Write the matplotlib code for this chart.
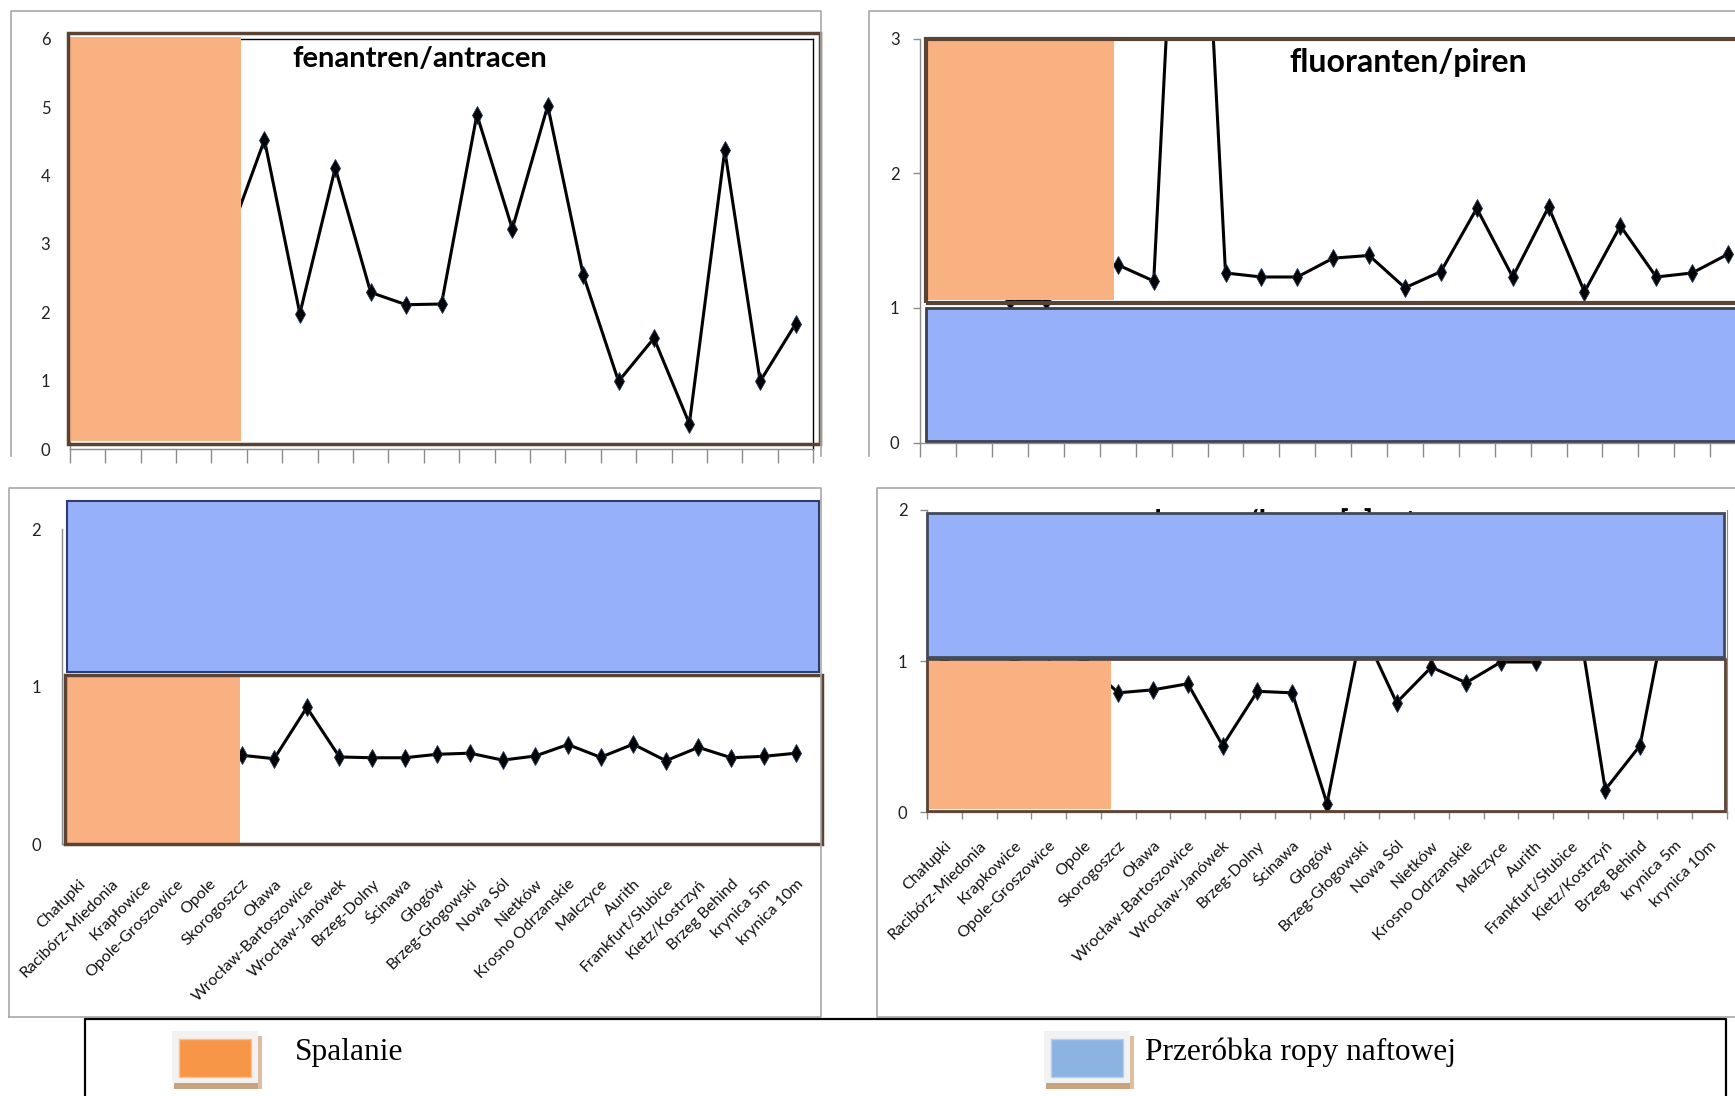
import numpy as np
import matplotlib
matplotlib.use("Agg")
import matplotlib.pyplot as plt
from matplotlib.patches import Rectangle
from matplotlib.lines import Line2D

plt.rcParams['font.family'] = ['Lato', 'DejaVu Sans']

# ---------------------------------------------------------------- data
stations_left = ["Chałupki", "Racibórz-Miedonia", "Krapłowice", "Opole-Groszowice",
                 "Opole", "Skorogoszcz", "Oława", "Wrocław-Bartoszowice",
                 "Wrocław-Janówek", "Brzeg-Dolny", "Ścinawa", "Głogów",
                 "Brzeg-Głogowski", "Nowa Sól", "Nietków", "Krosno Odrzanskie",
                 "Malczyce", "Aurith", "Frankfurt/Słubice", "Kietz/Kostrzyń",
                 "Brzeg Behind", "krynica 5m", "krynica 10m"]
stations_right = ["Chałupki", "Racibórz-Miedonia", "Krapkowice", "Opole-Groszowice",
                  "Opole", "Skorogoszcz", "Oława", "Wrocław-Bartoszowice",
                  "Wrocław-Janówek", "Brzeg-Dolny", "Ścinawa", "Głogów",
                  "Brzeg-Głogowski", "Nowa Sól", "Nietków", "Krosno Odrzanskie",
                  "Malczyce", "Aurith", "Frankfurt/Słubice", "Kietz/Kostrzyń",
                  "Brzeg Behind", "krynica 5m", "krynica 10m"]

# fenantren/antracen (21 sampling points)
phe_ant = [3.3, 2.8, 3.9, 2.6, 3.1, 4.52, 1.98, 4.11, 2.29, 2.11, 2.12,
           4.89, 3.22, 5.02, 2.55, 0.99, 1.62, 0.37, 4.37, 0.99, 1.83]
# fluoranten/piren
flu_pyr = [1.30, 1.20, 1.05, 1.05, 1.35, 1.32, 1.20, 6.40, 1.26, 1.23, 1.23,
           1.37, 1.39, 1.15, 1.27, 1.74, 1.23, 1.75, 1.12, 1.61, 1.23, 1.26, 1.40]
# lower-left ratio
ratio_ll = [0.55, 0.56, 0.54, 0.57, 0.56, 0.565, 0.543, 0.868, 0.554, 0.549,
            0.549, 0.571, 0.578, 0.534, 0.560, 0.633, 0.552, 0.635, 0.530,
            0.615, 0.549, 0.558, 0.578]
# chryzen/benzo[a]antracen
chr_baa = [1.0, 0.92, 1.0, 0.96, 1.0, 0.79, 0.81, 0.85, 0.44, 0.80, 0.79,
           0.057, 1.22, 0.725, 0.96, 0.857, 0.994, 0.994, 1.6, 0.149, 0.441,
           1.63, 1.4]

legend_labels = ["Spalanie", "Przeróbka ropy naftowej"]

# ---------------------------------------------------------------- styling
W, H, DPI = 1735, 1096, 100
ORANGE = '#f9b182'
BLUE = '#97b0fa'
BROWN = '#5b4334'
AXIS = '#8c8c8c'
FRAME = '#a8a8a8'

fig = plt.figure(figsize=(W / DPI, H / DPI), dpi=DPI)
fig.patch.set_facecolor('white')


def px_axes(x0, x1, y0, y1):
    return fig.add_axes([x0 / W, 1 - y1 / H, (x1 - x0) / W, (y1 - y0) / H])


def fline(xs, ys, color=FRAME, lw=1.2):
    fig.add_artist(Line2D([x / W for x in xs], [1 - y / H for y in ys],
                          transform=fig.transFigure, color=color, lw=lw))


def frect(x0, x1, y0, y1, **kw):
    fig.add_artist(Rectangle((x0 / W, 1 - y1 / H), (x1 - x0) / W, (y1 - y0) / H,
                             transform=fig.transFigure, **kw))


def base_axes(ax, n, ymax, ytick_len, xtick_len, ypad, names=None, xpad=0):
    ax.set_xlim(-0.5, n - 0.5)
    ax.set_ylim(0, ymax)
    ax.set_facecolor('none')
    for s in ('top', 'right'):
        ax.spines[s].set_visible(False)
    for s in ('left', 'bottom'):
        ax.spines[s].set_color(AXIS)
        ax.spines[s].set_linewidth(1)
    ax.set_yticks(range(ymax + 1))
    ax.tick_params(axis='y', length=ytick_len, width=1, color=AXIS, pad=ypad,
                   labelsize=12, labelcolor='#222222')
    ax.set_xticks(np.arange(n + 1) - 0.5, minor=True)
    ax.tick_params(axis='x', which='minor', length=xtick_len, width=1,
                   color=AXIS, direction='out')
    if names is None:
        ax.set_xticks([])
    else:
        ax.set_xticks(np.arange(n))
        ax.set_xticklabels(names, rotation=45, ha='right', va='top',
                           rotation_mode='anchor', fontsize=11.5, color='#111111')
        ax.tick_params(axis='x', which='major', length=0, pad=xpad)


def series(ax, values):
    ax.plot(np.arange(len(values)), values, color='black', lw=2.2, marker='d',
            ms=9, mfc='black', mec='#1d3557', mew=0.6, zorder=2)


def zone(ax, x0, x1, y0, y1, **kw):
    ax.add_patch(Rectangle((x0, y0), x1 - x0, y1 - y0, clip_on=False, **kw))


# ---------------------------------------------------------------- chart frames
fline([11, 11, 821, 821], [456, 11, 11, 456])
fline([868.5, 868.5, 1735], [456, 11, 11])
fline([9, 9, 821, 821, 9], [1017, 488, 488, 1017, 1017])
fline([1735, 877, 877, 1735], [488, 488, 1017, 1017])

# ---------------------------------------------------------------- fenantren/antracen
ax1 = px_axes(69.7, 813.3, 38.7, 449)
base_axes(ax1, len(phe_ant), 6, 0, 10, 14)
for s in ('top', 'right'):
    ax1.spines[s].set_visible(True)
    ax1.spines[s].set_color('black')
    ax1.spines[s].set_linewidth(1)
series(ax1, phe_ant)
zone(ax1, -0.5, 4.34, 0.11, 6.03, fc=ORANGE, ec='none', zorder=3)
zone(ax1, -0.55, 20.68, 0.08, 6.08, fc='none', ec=BROWN, lw=2.5, zorder=4)
fig.text(420 / W, 1 - 67 / H, "fenantren/antracen", ha='center', va='baseline',
         fontsize=21, fontweight='bold', color='black')

# ---------------------------------------------------------------- fluoranten/piren
ax2 = px_axes(920.4, 1746, 38.7, 442.6)
base_axes(ax2, len(flu_pyr), 3, 5, 10, 10)
series(ax2, flu_pyr)
zone(ax2, -0.32, 4.88, 1.06, 2.98, fc=ORANGE, ec='none', zorder=3)
zone(ax2, -0.35, 24, 1.04, 3.0, fc='none', ec=BROWN, lw=3, zorder=4)
zone(ax2, -0.35, 24, 0.01, 1.0, fc=BLUE, ec='#3d4250', lw=2, zorder=4)
fig.text(1408 / W, 1 - 72 / H, "fluoranten/piren", ha='center', va='baseline',
         fontsize=23, fontweight='bold', color='black')

# ---------------------------------------------------------------- lower-left ratio
ax3 = px_axes(62, 812.7, 529, 844.3)
base_axes(ax3, len(ratio_ll), 2, 0, 0, 15, names=stations_left, xpad=23.5)
series(ax3, ratio_ll)
zone(ax3, -0.36, 22.68, 1.09, 2.18, fc=BLUE, ec='#2e3c6e', lw=1.5, zorder=3)
zone(ax3, -0.36, 4.96, 0.01, 1.06, fc=ORANGE, ec='none', zorder=3)
zone(ax3, -0.4, 22.77, 0.0, 1.075, fc='none', ec=BROWN, lw=2.5, zorder=4)

# ---------------------------------------------------------------- chryzen/benzo[a]antracen
ax4 = px_axes(927, 1727, 510, 812.2)
base_axes(ax4, len(chr_baa), 2, 5, 5, 9, names=stations_right, xpad=19)
ax4.spines['right'].set_visible(True)
ax4.spines['right'].set_color(AXIS)
series(ax4, chr_baa)
ax4.text(1315 / W, 1 - 532 / H, "chryzen/benzo[a]antracen", transform=fig.transFigure,
         ha='center', va='baseline', fontsize=21.5, fontweight='bold', color='black',
         zorder=3.5, clip_on=False)
zone(ax4, -0.47, 4.79, 0.02, 1.0, fc=ORANGE, ec='none', zorder=3)
zone(ax4, -0.5, 22.45, 0.01, 1.017, fc='none', ec=BROWN, lw=2, zorder=4)
zone(ax4, -0.5, 22.42, 1.029, 1.977, fc=BLUE, ec='#424a5a', lw=2, zorder=4)

# ---------------------------------------------------------------- legend
fline([85, 85, 1726, 1726], [1096, 1019, 1019, 1096], color='black', lw=1.6)

swatches = [(171.7, '#f79646', '#fbc08f'), (1043.5, '#8db3e2', '#b9cff0')]
text_x = [295, 1145]
for (sx, fill, edge), tx, label in zip(swatches, text_x, legend_labels):
    frect(sx + 2.5, sx + 90, 1083, 1089, fc='#c9a37e', ec='none')
    frect(sx + 86.6, sx + 90, 1036, 1089, fc='#dcbfa2', ec='none')
    frect(sx, sx + 86.6, 1031, 1083, fc='#f2f2f2', ec='none')
    frect(sx + 7.6, sx + 79.3, 1039, 1076.7, fc=fill, ec=edge, lw=1)
    fig.text(tx / W, 1 - 1060 / H, label, ha='left', va='baseline',
             fontsize=22.6, family=['Liberation Serif', 'DejaVu Serif'], color='black')

fig.savefig('out.png', dpi=DPI, facecolor='white')
